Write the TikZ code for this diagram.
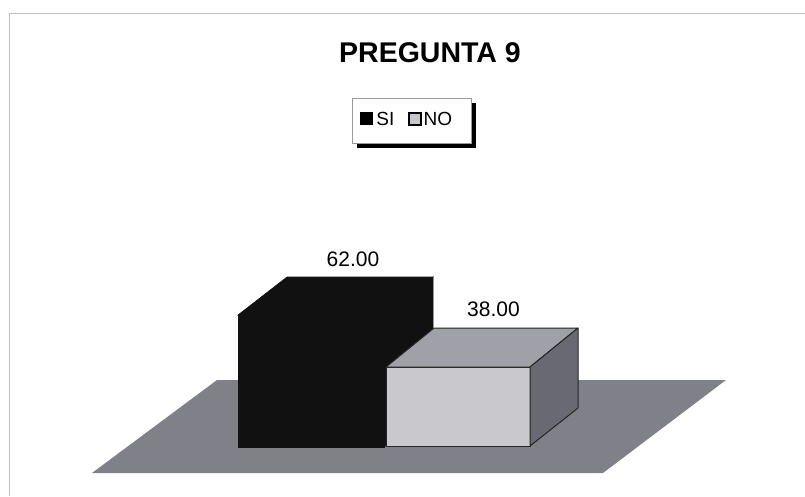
\documentclass[tikz,border=0pt]{standalone}
\usepackage{fontspec}
\setmainfont{Liberation Sans}
\usetikzlibrary{positioning}
\definecolor{floorgray}{RGB}{128,128,136}
\definecolor{nofront}{RGB}{200,200,205}
\definecolor{notop}{RGB}{160,160,168}
\definecolor{noside}{RGB}{105,105,115}
\definecolor{sibar}{RGB}{17,17,17}
\begin{document}
\begin{tikzpicture}[x=1pt, y=-1pt]
    \tikzstyle{frame} = [draw=black!25, line width=1.3pt]
    \tikzstyle{siface} = [fill=sibar, draw=sibar, line width=0.6pt]
    \tikzstyle{noface} = [draw=black!85, line width=1pt, line join=round]
    \tikzstyle{value} = [font=\fontsize{21}{24}\selectfont, inner sep=0pt]
    \tikzstyle{legtext} = [font=\fontsize{19}{21}\selectfont, inner sep=0pt, anchor=west]
    \useasboundingbox (0,0) rectangle (805,496);
    \draw [frame] (9.5,496) -- (9.5,13.5) -- (805,13.5);

    \node [font=\bfseries\fontsize{28.5}{32}\selectfont] (title) at (430,53) {PREGUNTA 9};

    \fill [black] (357,103) rectangle (476,148);
    \draw [fill=white, draw=black!40, line width=0.8pt] (352,98) rectangle (471,143);
    \node [fill=black, minimum size=13pt, inner sep=0pt] (sisq) at (366.5,118.5) {};
    \node [legtext, right=3pt of sisq] (silab) {SI};
    \node [fill=notop!60, draw=black, line width=1.8pt, minimum size=12pt, inner sep=0pt] (nosq) at (415,119) {};
    \node [legtext, right=1.5pt of nosq] (nolab) {NO};

    \fill [floorgray] (92,473) -- (603,473) -- (726,380) -- (217,380) -- cycle;

    \filldraw [siface] (238,315) rectangle (384,447);
    \filldraw [siface] (238,315) -- (287,277) -- (433,277) -- (384,315) -- cycle;
    \filldraw [siface] (384,315) -- (433,277) -- (433,409) -- (384,447) -- cycle;

    \filldraw [noface, fill=nofront] (386,367) rectangle (530,446);
    \filldraw [noface, fill=notop] (386,367) -- (434,328) -- (578,328) -- (530,367) -- cycle;
    \filldraw [noface, fill=noside] (530,367) -- (578,328) -- (578,408) -- (530,446) -- cycle;

    \node [value] (sival) at (353,259.5) {62.00};
    \node [value] (noval) at (493.5,309) {38.00};
\end{tikzpicture}
\end{document}
